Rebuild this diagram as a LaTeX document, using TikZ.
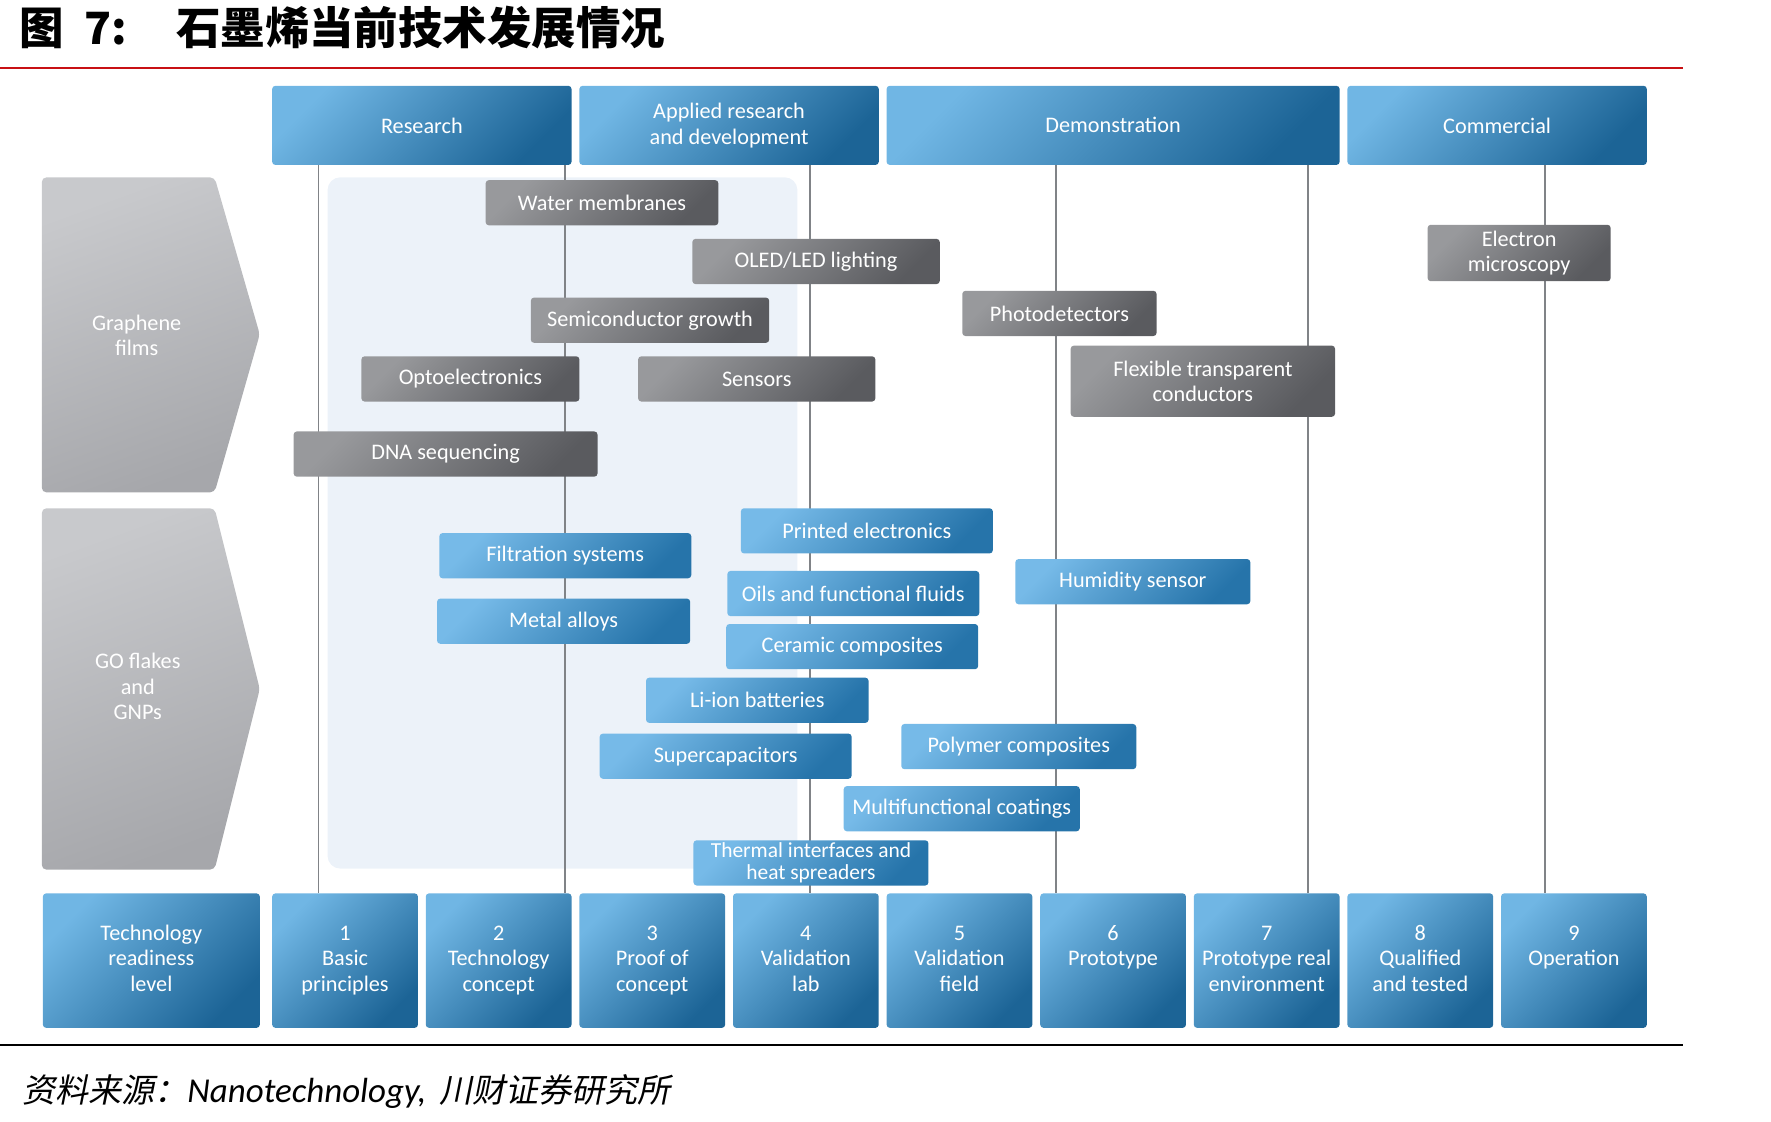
\documentclass[tikz,border=0pt]{standalone}
\usepackage{fontspec}
\setmainfont{Carlito}
\newfontfamily\cjk{Noto Sans CJK SC}
\newfontfamily\cjkit[FakeSlant=0.2]{Noto Sans CJK SC}
\usetikzlibrary{positioning}
\definecolor{hdrL}{RGB}{112,182,228}
\definecolor{hdrD}{RGB}{28,100,150}
\definecolor{itemL}{RGB}{118,186,232}
\definecolor{itemD}{RGB}{38,116,170}
\definecolor{grayL}{RGB}{152,153,156}
\definecolor{grayD}{RGB}{90,91,95}
\definecolor{chevL}{RGB}{200,201,204}
\definecolor{chevD}{RGB}{166,167,171}
\definecolor{panel}{RGB}{236,242,249}
\definecolor{vgray}{RGB}{128,131,135}
\definecolor{redline}{RGB}{200,16,20}

\begin{document}
\begin{tikzpicture}[x=0.025cm, y=-0.025cm,
	every node/.style={font=\fontsize{14}{16}\selectfont, align=center, inner sep=1pt},
	hdr/.style={rounded corners=2pt, top color=hdrL, bottom color=hdrD, shading angle=45, text=white, minimum height=1.75cm},
	lvl/.style={rounded corners=2pt, top color=hdrL, bottom color=hdrD, shading angle=45, text=white, minimum height=2.975cm, minimum width=3.225cm},
	gbox/.style={rounded corners=2pt, top color=grayL, bottom color=grayD, shading angle=45, text=white, minimum height=1cm},
	bbox/.style={rounded corners=2pt, top color=itemL, bottom color=itemD, shading angle=45, text=white, minimum height=1cm},
	chev/.style={rounded corners=3pt, top color=chevL, bottom color=chevD, shading angle=20},
	vline/.style={vgray, line width=1pt}]
	\useasboundingbox (0,0) rectangle (1568,993);

	\node[anchor=west, font=\cjk\bfseries\fontsize{28}{30}\selectfont] (title) at (16,24) {图\hspace{0.45em}7:\hspace{1.1em}石墨烯当前技术发展情况};
	\draw[redline, line width=1.4pt] (0,60) -- (1490,60);

	\fill[panel, rounded corners=8pt] (290,157) rectangle (706,769);

	\shade[chev] (37,157) -- (190,157) -- (230,296) -- (190,436) -- (37,436) -- cycle;
	\shade[chev] (37,450) -- (190,450) -- (230,610) -- (190,770) -- (37,770) -- cycle;
	\node[text=white] (graphene) at (121,297) {Graphene\\films};
	\node[text=white] (goflakes) at (122,608) {GO flakes\\and\\GNPs};

	\node[hdr, minimum width=6.625cm] (hRes) at (373.5,111) {Research};
	\node[hdr, minimum width=6.625cm] (hApp) at (645.5,111) {Applied research\\and development};
	\node[hdr, minimum width=10.025cm] (hDem) at (985.5,111) {Demonstration};
	\node[hdr, minimum width=6.625cm] (hCom) at (1325.5,111) {Commercial};

	\node[lvl, minimum width=4.8cm] (trl) at (134,850.5) {\strut Technology\\readiness\\level\strut};
	\foreach \i/\t in {1/{Basic\\principles}, 2/{Technology\\concept}, 3/{Proof of\\concept}, 4/{Validation\\lab}, 5/{Validation\\field}, 6/{Prototype\\}, 7/{Prototype real\\environment}, 8/{Qualified\\and tested}, 9/{Operation\\}}
		\node[lvl] (lvl\i) at ({305.5+136*(\i-1)},850.5) {\strut\i\\\t\strut};

	\draw[vline] (282,0 |- hRes.south) -- (282,0 |- lvl1.north);
	\draw[vline] (500,0 |- hRes.south) -- (500,0 |- lvl2.north);
	\draw[vline] (717,0 |- hApp.south) -- (717,0 |- lvl4.north);
	\draw[vline] (935,0 |- hDem.south) -- (935,0 |- lvl6.north);
	\draw[vline] (1158,0 |- hDem.south) -- (1158,0 |- lvl7.north);
	\draw[vline] (1368,0 |- hCom.south) -- (1368,0 |- lvl9.north);

	\node[gbox, minimum width=5.15cm] (water) at (533,179.5) {Water membranes};
	\node[gbox, minimum width=5.475cm] (oled) at (722.5,231.5) {OLED/LED lighting};
	\node[gbox, minimum width=5.275cm] (semi) at (575.5,283.5) {Semiconductor growth};
	\node[gbox, minimum width=4.3cm] (photo) at (938,277.5) {Photodetectors};
	\node[gbox, minimum width=4.05cm, minimum height=1.25cm] (electron) at (1345,224) {Electron\\microscopy};
	\node[gbox, minimum width=4.825cm] (opto) at (416.5,335.5) {Optoelectronics};
	\node[gbox, minimum width=5.25cm] (sensors) at (670,335.5) {Sensors};
	\node[gbox, minimum width=5.85cm, minimum height=1.575cm] (flexible) at (1065,337.5) {Flexible transparent\\conductors};
	\node[gbox, minimum width=6.725cm] (dna) at (394.5,402) {DNA sequencing};

	\node[bbox, minimum width=5.575cm] (printed) at (767.5,470) {Printed electronics};
	\node[bbox, minimum width=5.575cm] (filtration) at (500.5,492) {Filtration systems};
	\node[bbox, minimum width=5.2cm] (humidity) at (1003,515) {Humidity sensor};
	\node[bbox, minimum width=5.575cm] (oils) at (755.5,525.5) {Oils and functional fluids};
	\node[bbox, minimum width=5.6cm] (metal) at (499,550) {Metal alloys};
	\node[bbox, minimum width=5.575cm] (ceramic) at (754.5,572.5) {Ceramic composites};
	\node[bbox, minimum width=4.925cm] (liion) at (670.5,620) {Li-ion batteries};
	\node[bbox, minimum width=5.575cm] (supercap) at (642.5,669.5) {Supercapacitors};
	\node[bbox, minimum width=5.2cm] (polymer) at (902,661) {Polymer composites};
	\node[bbox, minimum width=5.225cm] (multi) at (851.5,716) {Multifunctional coatings};
	\node[bbox, minimum width=5.2cm, font=\fontsize{13.5}{13.5}\selectfont] (thermal) at (718,764) {Thermal interfaces and\\heat spreaders};

	\draw[black, line width=1.4pt] (0,925) -- (1490,925);
	\node[anchor=west, font=\cjkit\fontsize{20.8}{23}\selectfont] (source) at (18,966) {资料来源：{\normalfont\itshape\fontsize{22}{24}\selectfont Nanotechnology,}\hspace{0.4em}川财证券研究所};
\end{tikzpicture}
\end{document}
